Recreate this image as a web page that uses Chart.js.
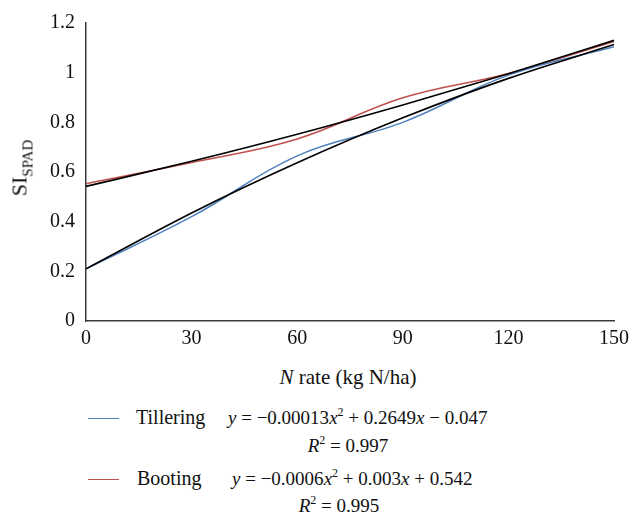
<!DOCTYPE html>
<html>
<head>
<meta charset="utf-8">
<script src="https://cdn.jsdelivr.net/npm/chart.js@4/dist/chart.umd.min.js"></script>
<style>
  html, body { margin: 0; padding: 0; background: #fff; }
  #wrap { position: relative; width: 644px; height: 514px; font-family: "Liberation Serif", "Times New Roman", serif; color: #111; }
  #c { position: absolute; left: 0; top: 0; }
  .txt { position: absolute; white-space: nowrap; font-size: 19px; line-height: 1; }
  .ytitle { left: 22px; top: 168px; font-size: 22px; transform: translate(-50%, -50%) rotate(-90deg); }
  .ytitle sub { font-size: 15px; vertical-align: -6px; }
  .xtitle { left: 348px; top: 367px; font-size: 21px; transform: translateX(-50%); }
  .key { position: absolute; height: 0; border-top: 1.5px solid; width: 31px; left: 88px; }
  sup { font-size: 12px; vertical-align: 8px; line-height: 0; }
  .lab { font-size: 20px; }
  .c { transform: translateX(-50%); }
</style>
</head>
<body>
<div id="wrap">
  <canvas id="c" width="644" height="360"></canvas>
  <div class="txt ytitle">SI<sub>SPAD</sub></div>
  <div class="txt xtitle"><i>N</i> rate (kg N/ha)</div>

  <div class="key" style="top:418px;border-color:#4F81BD"></div>
  <div class="txt lab" style="left:136px;top:407px">Tillering</div>
  <div class="txt" style="left:228px;top:408px"><i>y</i> = −0.00013<i>x</i><sup>2</sup> + 0.2649<i>x</i> − 0.047</div>
  <div class="txt c" style="left:348px;top:436px"><i>R</i><sup>2</sup> = 0.997</div>

  <div class="key" style="top:479px;border-color:#C0504D"></div>
  <div class="txt lab" style="left:137px;top:468px">Booting</div>
  <div class="txt" style="left:232px;top:469px"><i>y</i> = −0.0006<i>x</i><sup>2</sup> + 0.003<i>x</i> + 0.542</div>
  <div class="txt c" style="left:339px;top:496px"><i>R</i><sup>2</sup> = 0.995</div>
</div>
<script>
// N application rates (kg N/ha)
const nRates = ['0', '30', '60', '90', '120', '150'];
// SI_SPAD at tillering and booting stages
const tillering = [0.21, 0.42, 0.665, 0.80, 0.99, 1.104];
const booting = [0.553, 0.638, 0.733, 0.899, 0.997, 1.125];
// Quadratic trend lines evaluated at each rate
const tilleringFit = [0.21, 0.435, 0.637, 0.818, 0.977, 1.113];
const bootingFit = [0.542, 0.643, 0.752, 0.870, 0.996, 1.130];
// y-axis tick labels
const yTickLabels = ['0', '0.2', '0.4', '0.6', '0.8', '1', '1.2'];

const serif = '"Liberation Serif", "Times New Roman", serif';

new Chart(document.getElementById('c'), {
  type: 'line',
  data: {
    labels: nRates,
    datasets: [
      { label: 'Tillering trend', data: tilleringFit, borderColor: '#000', borderWidth: 1.6,
        cubicInterpolationMode: 'monotone', pointRadius: 0, order: 0 },
      { label: 'Booting trend', data: bootingFit, borderColor: '#000', borderWidth: 1.6,
        cubicInterpolationMode: 'monotone', pointRadius: 0, order: 0 },
      { label: 'Tillering', data: tillering, borderColor: '#4F81BD', borderWidth: 1.5,
        tension: 0.4, pointRadius: 0, order: 1 },
      { label: 'Booting', data: booting, borderColor: '#C0504D', borderWidth: 1.5,
        tension: 0.4, pointRadius: 0, order: 1 }
    ]
  },
  options: {
    responsive: false,
    animation: false,
    layout: { padding: { left: 0, right: 30, top: 13, bottom: 0 } },
    plugins: { legend: { display: false }, tooltip: { enabled: false } },
    scales: {
      x: {
        type: 'category',
        offset: false,
        grid: { display: false, drawTicks: false },
        border: { display: true, color: '#3a3a3a', width: 1.5 },
        ticks: { color: '#111', font: { family: serif, size: 20 }, padding: 6, maxRotation: 0, autoSkip: false },
        afterFit: (s) => { s.height = 39; }
      },
      y: {
        min: 0, max: 1.2,
        grid: { display: false, drawTicks: false },
        border: { display: true, color: '#3a3a3a', width: 1.5 },
        ticks: { stepSize: 0.2, color: '#111', font: { family: serif, size: 20 }, padding: 11,
          callback: (v) => yTickLabels[Math.round(v / 0.2)] },
        afterFit: (s) => { s.width = 86; }
      }
    }
  }
});
</script>
</body>
</html>
